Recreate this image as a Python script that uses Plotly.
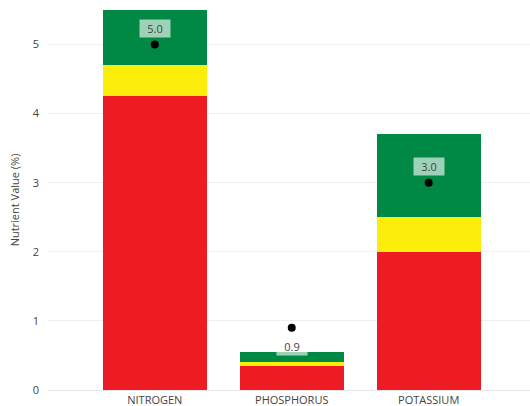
import plotly.graph_objects as go

categories = ["NITROGEN", "PHOSPHORUS", "POTASSIUM"]
low_upper = [4.25, 0.35, 2.0]
mid_upper = [4.7, 0.4, 2.5]
high_upper = [5.5, 0.55, 3.7]
actual = [5.0, 0.9, 3.0]
y_ticks = [0, 1, 2, 3, 4, 5]

RED = "#ED1C24"
YELLOW = "#FCEE0A"
GREEN = "#008945"
FONT = "Open Sans"

mid_seg = [m - l for m, l in zip(mid_upper, low_upper)]
high_seg = [h - m for h, m in zip(high_upper, mid_upper)]

fig = go.Figure()
for vals, col in [(low_upper, RED), (mid_seg, YELLOW), (high_seg, GREEN)]:
    fig.add_trace(go.Bar(x=categories, y=vals, marker=dict(color=col, line=dict(width=0)),
                         width=0.76, hoverinfo="skip", showlegend=False))

fig.add_trace(go.Scatter(x=categories, y=actual, mode="markers",
                         marker=dict(color="black", size=8), showlegend=False))

for c, a, h in zip(categories, actual, high_upper):
    shift = 16 if a < h else -19
    fig.add_annotation(x=c, y=a, text=f"{a:.1f}", showarrow=False, yshift=shift,
                       width=26, height=13,
                       font=dict(family=FONT, size=11, color="#444444"),
                       bgcolor="rgba(255,255,255,0.62)", borderpad=2)

fig.update_layout(
    barmode="stack",
    width=530, height=406,
    margin=dict(l=48, r=0, t=10, b=16, autoexpand=False),
    paper_bgcolor="white", plot_bgcolor="white",
    font=dict(family=FONT, size=11, color="#555555"),
    xaxis=dict(range=[-0.78, 2.74], showgrid=False, showline=False, zeroline=False,
               ticks="", automargin=False, ticklabelstandoff=2,
               tickfont=dict(size=11, color="#444444")),
    yaxis=dict(range=[0, 5.5], tickvals=y_ticks, showgrid=True, gridcolor="#EEEEEE",
               gridwidth=1, zeroline=True, zerolinecolor="#E6E6E6", zerolinewidth=1,
               ticks="", ticklabelstandoff=8, automargin=False,
               title=dict(text="Nutrient Value (%)", standoff=10,
                          font=dict(size=11, color="#444444")),
               tickfont=dict(size=11, color="#444444")),
)

fig.write_html("out.html", config={"displayModeBar": False},
               post_script="document.body.style.margin='0';document.body.style.padding='0';")
